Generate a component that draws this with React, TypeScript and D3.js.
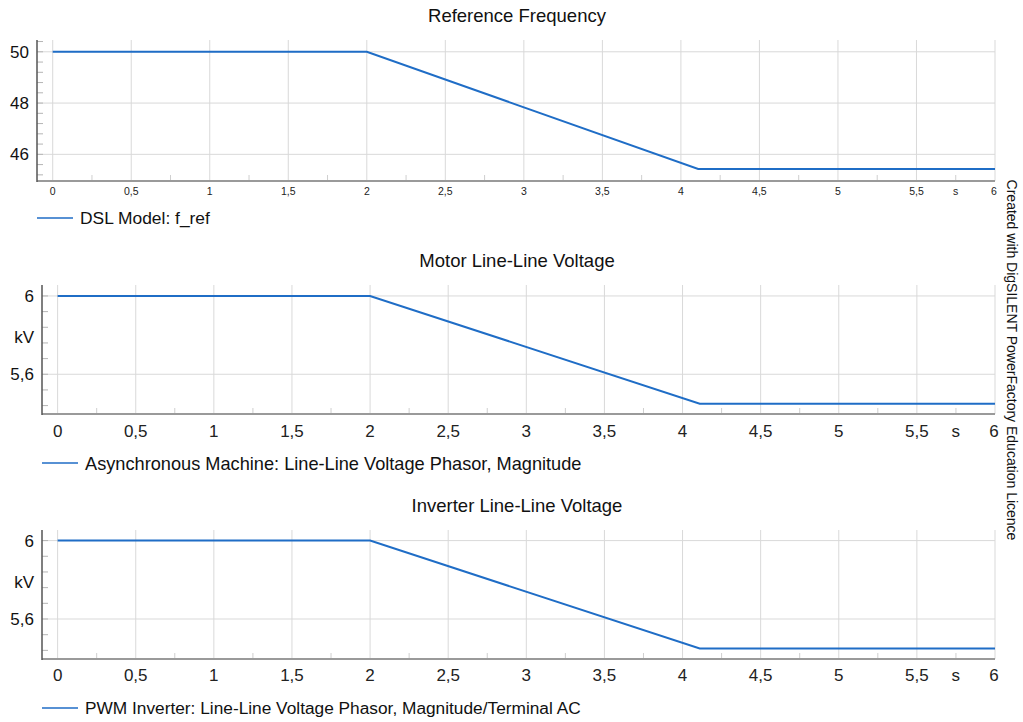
import React from "react";
import * as d3 from "d3";

const time = [0, 2, 4.11, 6];
const fRef = [50, 50, 45.43, 45.43];
const vMotor = [6, 6, 5.45, 5.45];
const vInverter = [6, 6, 5.45, 5.45];

const xTicks = [0, 0.5, 1, 1.5, 2, 2.5, 3, 3.5, 4, 4.5, 5, 5.5, 6];
const xMinorTicks = [0.25, 0.75, 1.25, 1.75, 2.25, 2.75, 3.25, 3.75, 4.25, 4.75, 5.25, 5.75];

const titles = ["Reference Frequency", "Motor Line-Line Voltage", "Inverter Line-Line Voltage"];
const legends = [
  "DSL Model: f_ref",
  "Asynchronous Machine: Line-Line Voltage Phasor, Magnitude",
  "PWM Inverter: Line-Line Voltage Phasor, Magnitude/Terminal AC",
];
const yTicks1 = [46, 48, 50];
const yTicks2 = [5.6, 6];
const yUnits = ["", "kV", "kV"];

const FONT = "'Liberation Sans', Arial, Helvetica, sans-serif";
const BLUE = "#1f6dc6";

type PanelCfg = {
  title: string;
  legend: string;
  values: number[];
  yDomain: [number, number];
  yTicks: number[];
  yMinorStep: number;
  unit: string;
  left: number;
  top: number;
  bottom: number;
  titleY: number;
  xFont: number;
  xLabelY: number;
  legendY: number;
  legendX: number;
  legendFont: number;
  unitY: number;
};

const right = 995;

const panels: PanelCfg[] = [
  {
    title: titles[0], legend: legends[0], values: fRef, yDomain: [44.96, 50.46], yTicks: yTicks1,
    yMinorStep: 0.4, unit: yUnits[0], left: 37, top: 40, bottom: 181, titleY: 22, xFont: 10.5,
    xLabelY: 195, legendY: 218, legendX: 37, legendFont: 17.4, unitY: 0,
  },
  {
    title: titles[1], legend: legends[1], values: vMotor, yDomain: [5.397, 6.056], yTicks: yTicks2,
    yMinorStep: 0.08, unit: yUnits[1], left: 42, top: 285, bottom: 414, titleY: 267, xFont: 17,
    xLabelY: 437, legendY: 463, legendX: 42, legendFont: 18.2, unitY: 337,
  },
  {
    title: titles[2], legend: legends[2], values: vInverter, yDomain: [5.396, 6.054], yTicks: yTicks2,
    yMinorStep: 0.08, unit: yUnits[2], left: 42, top: 530, bottom: 659, titleY: 512, xFont: 17,
    xLabelY: 681, legendY: 708, legendX: 42, legendFont: 17.3, unitY: 582,
  },
];

const fmt = (v: number) => String(+v.toFixed(2)).replace(".", ",");

function Panel({ p }: { p: PanelCfg }) {
  const x = d3.scaleLinear().domain([-0.1, 6]).range([p.left, right]);
  const y = d3.scaleLinear().domain(p.yDomain).range([p.bottom, p.top]);
  const line = d3
    .line<number>()
    .x((_, i) => x(time[i]))
    .y((d) => y(d));
  const minor: number[] = [];
  const base = p.yTicks[0];
  for (let k = -20; k <= 20; k++) {
    const v = base + k * p.yMinorStep;
    if (v > p.yDomain[0] && v < p.yDomain[1]) minor.push(v);
  }
  const yFont = 17;
  return (
    <g>
      <text x={517} y={p.titleY} textAnchor="middle" fontSize={18.5} fill="#111">
        {p.title}
      </text>
      {xTicks.map((t) => (
        <line key={"vg" + t} x1={x(t)} x2={x(t)} y1={p.top} y2={p.bottom} stroke="#d9d9d9" strokeWidth={1} />
      ))}
      {p.yTicks.map((t) => (
        <line key={"hg" + t} x1={p.left} x2={right} y1={y(t)} y2={y(t)} stroke="#d9d9d9" strokeWidth={1} />
      ))}
      {xMinorTicks.map((t) => (
        <line key={"xm" + t} x1={x(t)} x2={x(t)} y1={p.bottom - 6} y2={p.bottom} stroke="#cfcfcf" strokeWidth={1} />
      ))}
      {minor.map((t) => (
        <line key={"ym" + t} x1={p.left} x2={p.left + 6} y1={y(t)} y2={y(t)} stroke="#b5b5b5" strokeWidth={1} />
      ))}
      <line x1={p.left} x2={right} y1={p.bottom} y2={p.bottom} stroke="#9a9a9a" strokeWidth={2} />
      <line x1={p.left} x2={p.left} y1={p.top} y2={p.bottom + 1} stroke="#555" strokeWidth={1.5} />
      <path d={line(p.values) || ""} fill="none" stroke={BLUE} strokeWidth={2} />
      {p.yTicks.map((t) => (
        <text key={"yl" + t} x={p.left - 8} y={y(t)} dy="0.36em" textAnchor="end" fontSize={yFont} fill="#111">
          {fmt(t)}
        </text>
      ))}
      {p.unit && (
        <text x={p.left - 8} y={p.unitY} dy="0.36em" textAnchor="end" fontSize={yFont} fill="#111">
          {p.unit}
        </text>
      )}
      {xTicks.map((t) => (
        <text key={"xl" + t} x={t === 6 ? x(t) - 1 : x(t)} y={p.xLabelY} textAnchor="middle" fontSize={p.xFont} fill="#222">
          {fmt(t)}
        </text>
      ))}
      <text x={955.7} y={p.xLabelY} textAnchor="middle" fontSize={p.xFont} fill="#222">
        s
      </text>
      <line x1={p.legendX} x2={p.legendX + 36} y1={p.legendY} y2={p.legendY} stroke={BLUE} strokeWidth={1.5} />
      <text x={p.legendX + 43} y={p.legendY} dy="0.36em" fontSize={p.legendFont} fill="#111">
        {p.legend}
      </text>
    </g>
  );
}

export default function App() {
  return (
    <svg
      width={1023}
      height={722}
      style={{ position: "absolute", left: 0, top: 0, background: "#fff" }}
      fontFamily={FONT}
    >
      <rect x={0} y={0} width={1023} height={722} fill="#fff" />
      {panels.map((p, i) => (
        <Panel key={i} p={p} />
      ))}
      <text
        transform="translate(1007,360) rotate(90)"
        textAnchor="middle"
        fontSize={14}
        fill="#111"
      >
        Created with DigSILENT PowerFactory Education Licence
      </text>
    </svg>
  );
}
